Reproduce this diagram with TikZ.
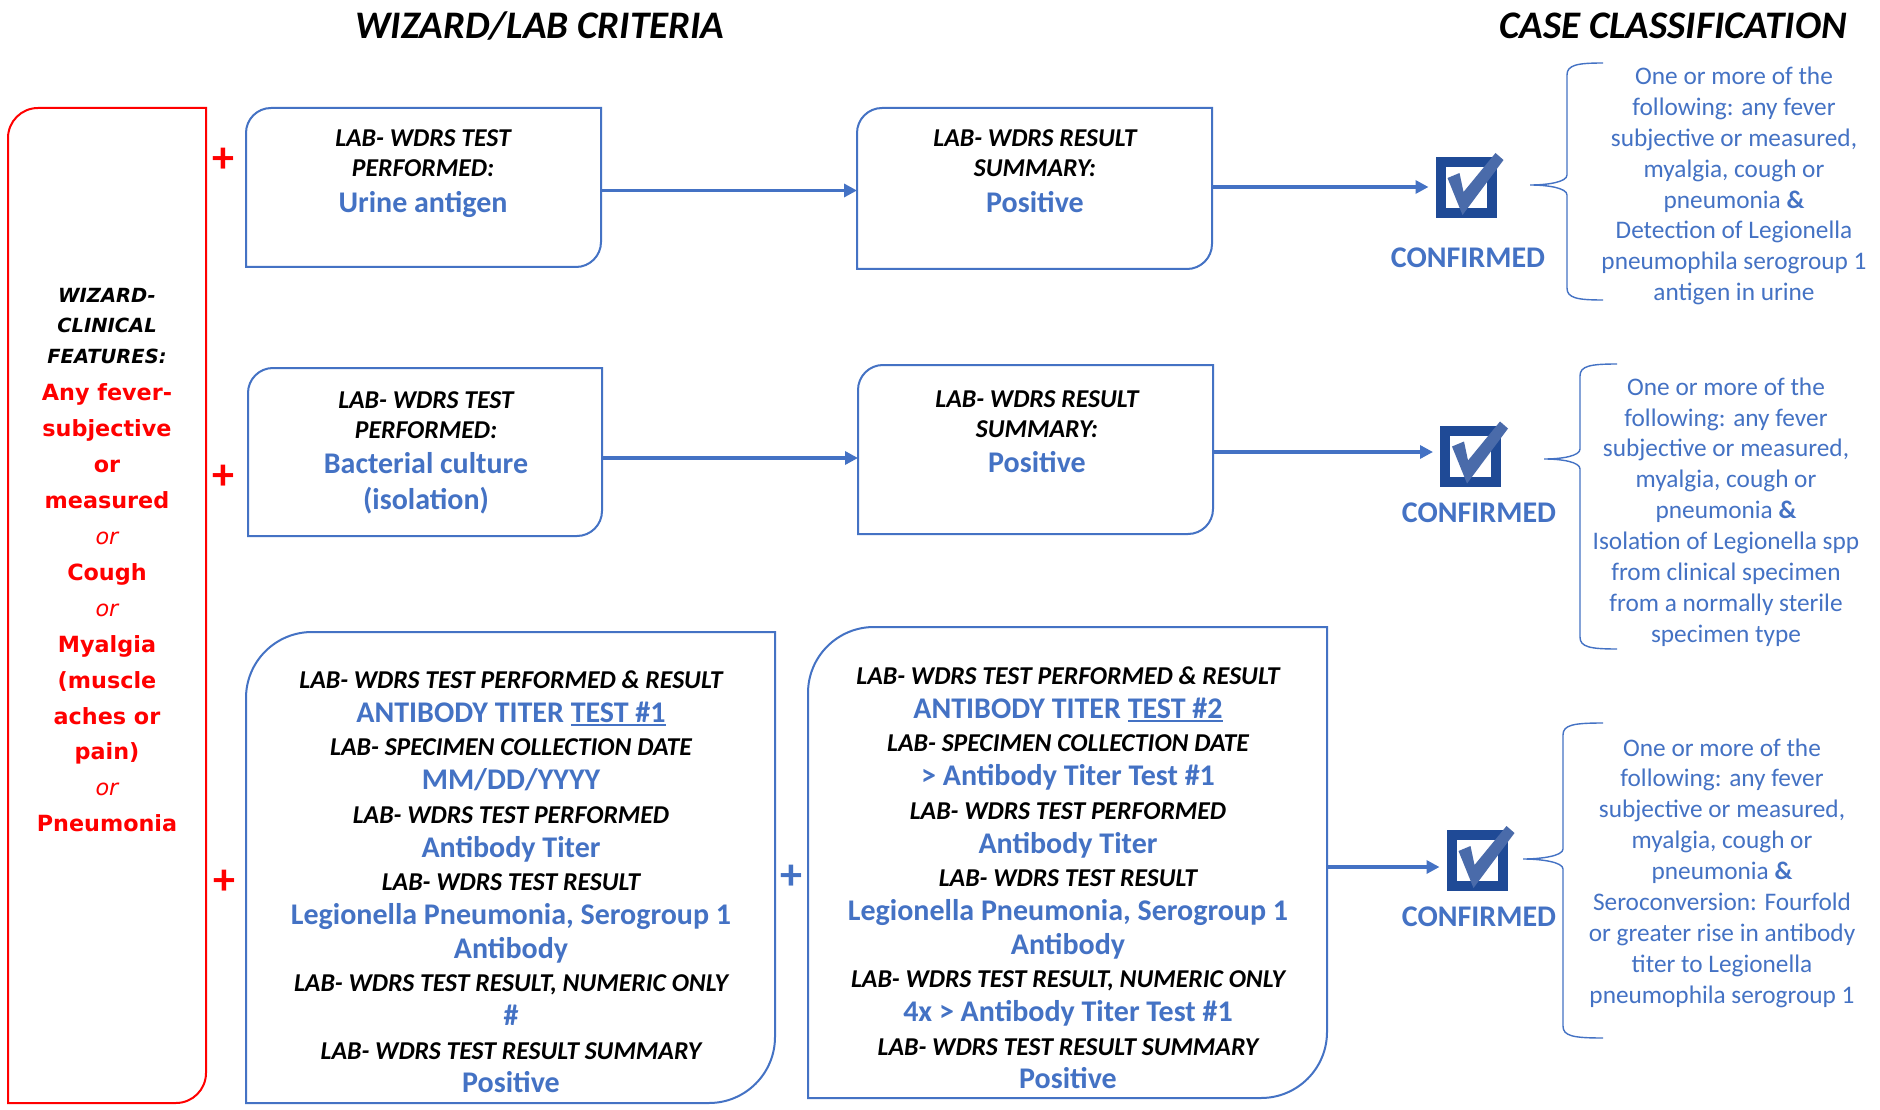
\documentclass[tikz,border=0pt]{standalone}
\usepackage{fontspec}
\setmainfont{Carlito}
\newfontfamily\vfont{DejaVu Sans}
\usetikzlibrary{arrows.meta}

\definecolor{blueText}{HTML}{4472C4}
\definecolor{boxBlue}{HTML}{4472C4}
\definecolor{chkSq}{HTML}{1F4A96}
\definecolor{chkMk}{HTML}{4A6BAA}
\definecolor{alertRed}{HTML}{FF0000}

% text styles used inside the boxes
\newcommand\lab{\fontsize{25.7}{30}\selectfont\bfseries\itshape\color{black}}
\newcommand\val{\fontsize{30}{30}\selectfont\bfseries\color{blueText}}
\newcommand\labs{\fontsize{25.7}{33.7}\selectfont\bfseries\itshape\color{black}}
\newcommand\vals{\fontsize{30}{33.7}\selectfont\bfseries\color{blueText}}
% thick underline
\newcommand\tul[1]{\setbox0=\hbox{#1}\makebox[0pt][l]{\rule[-4pt]{\wd0}{2.2pt}}\box0}

% outline with rounded top-left and bottom-right corners around a node
\newcommand\cornerbox[3]{%
  \draw[line width=2pt,#3]
    (#1.south west) -- ([shift={(0,#2)}]#1.north west)
    arc[start angle=180,end angle=270,radius=#2]
    -- (#1.north east) -- ([shift={(0,-#2)}]#1.south east)
    arc[start angle=0,end angle=90,radius=#2] -- cycle;}

% curly brace: tip (x,y), spine x, end x, top y, bottom y
\newcommand\curly[6]{%
  \draw[line width=1.4pt,boxBlue]
    (#4,#5) .. controls (#3+10,#5) and (#3,#5+2) .. (#3,#5+12)
    -- (#3,#2-10) .. controls (#3,#2-3) and (#1+18,#2) .. (#1,#2)
    .. controls (#1+18,#2) and (#3,#2+3) .. (#3,#2+10)
    -- (#3,#6-12) .. controls (#3,#6-2) and (#3+10,#6) .. (#4,#6);}

% check box: square plus tick mark
\newcommand\checkbox[1]{%
  \draw[line width=10pt,chkSq] ([shift={(5,5)}]#1.north west) rectangle ([shift={(-5,-5)}]#1.south east);
  \begin{scope}[shift={(#1.north west)}]
    \fill[chkMk] (12,21) -- (24,16) -- (28,35) -- (60,-4) -- (68,3) -- (27,58) -- cycle;
  \end{scope}}

\tikzset{
  frame/.style={inner sep=0pt,outer sep=0pt},
  boxtxt/.style={align=center,inner sep=0pt},
  smallbox/.style={boxtxt,font=\fontsize{25.7}{30}\selectfont},
  bigbox/.style={boxtxt,font=\fontsize{25.7}{33.7}\selectfont},
  casetxt/.style={align=center,inner sep=0pt,text=blueText,font=\fontsize{25.3}{30.9}\selectfont},
  conf/.style={font=\fontsize{30}{30}\selectfont\bfseries,text=blueText,inner sep=0pt},
  title/.style={font=\fontsize{39}{40}\selectfont\bfseries\itshape,inner sep=0pt},
  plus/.style={font=\fontsize{44}{44}\selectfont\bfseries,inner sep=0pt},
  arr/.style={draw=boxBlue,line width=3.5pt,-{Triangle[length=13pt,width=13pt]}},
  chk/.style={minimum size=61pt,inner sep=0pt,outer sep=0pt}
}

\begin{document}
\begin{tikzpicture}[x=1pt,y=-1pt]
\useasboundingbox[fill=white] (0,0) rectangle (1880,1110);

% headings
\node[title] (h1) at (540,26) {WIZARD/LAB CRITERIA};
\node[title] (h2) at (1673,26) {CASE CLASSIFICATION};

% clinical features column
\node[frame,minimum width=198pt,minimum height=995pt,anchor=north west] (clin) at (8,108) {};
\cornerbox{clin}{30}{alertRed}
\node[boxtxt,font=\vfont\fontsize{19.5}{30.5}\selectfont\bfseries\itshape] (clinhead) at (107,326)
  {WIZARD-\\CLINICAL\\FEATURES:};
\node[boxtxt,text=alertRed,font=\vfont\fontsize{22.3}{35.9}\selectfont\bfseries] (clinlist) at (107,608)
  {Any fever-\\subjective\\or\\measured\\{\mdseries\itshape or}\\Cough\\{\mdseries\itshape or}\\Myalgia\\(muscle\\aches or\\pain)\\{\mdseries\itshape or}\\Pneumonia};

\node[plus,text=alertRed] (p1) at (223,160) {+};
\node[plus,text=alertRed] (p2) at (223,477) {+};
\node[plus,text=alertRed] (p3) at (224,882) {+};
\node[plus,text=blueText] (p4) at (791,877) {+};

% row 1: urine antigen
\node[frame,minimum width=355pt,minimum height=159pt,anchor=north west] (b1) at (246,108) {};
\cornerbox{b1}{25}{boxBlue}
\node[smallbox] (b1t) at (423,174) {{\lab LAB- WDRS TEST}\\{\lab PERFORMED:}\\[6pt]{\val Urine antigen}};

\node[frame,minimum width=355pt,minimum height=161pt,anchor=north west] (b2) at (857,108) {};
\cornerbox{b2}{25}{boxBlue}
\node[smallbox] (b2t) at (1035,171.6) {{\lab LAB- WDRS RESULT}\\{\lab SUMMARY:}\\[6pt]{\val Positive}};

% row 2: bacterial culture
\node[frame,minimum width=354pt,minimum height=168pt,anchor=north west] (b3) at (248,368) {};
\cornerbox{b3}{25}{boxBlue}
\node[smallbox] (b3t) at (426,453) {{\lab LAB- WDRS TEST}\\{\lab PERFORMED:}\\[5pt]{\val Bacterial culture}\\[6pt]{\val (isolation)}};

\node[frame,minimum width=355pt,minimum height=169pt,anchor=north west] (b4) at (858,365) {};
\cornerbox{b4}{25}{boxBlue}
\node[smallbox] (b4t) at (1037,431.5) {{\lab LAB- WDRS RESULT}\\{\lab SUMMARY:}\\[5pt]{\val Positive}};

% row 3: paired antibody titers
\node[frame,minimum width=529pt,minimum height=471pt,anchor=north west] (b5) at (246,632) {};
\cornerbox{b5}{66}{boxBlue}
\node[bigbox] (b5t) at (511,882) {%
{\labs LAB- WDRS TEST PERFORMED \& RESULT}\\
{\vals ANTIBODY TITER \tul{TEST \#1}}\\
{\labs LAB- SPECIMEN COLLECTION DATE}\\
{\vals MM/DD/YYYY}\\
{\labs LAB- WDRS TEST PERFORMED}\\
{\vals Antibody Titer}\\
{\labs LAB- WDRS TEST RESULT}\\
{\vals Legionella Pneumonia, Serogroup 1}\\
{\vals Antibody}\\
{\labs LAB- WDRS TEST RESULT, NUMERIC ONLY}\\
{\vals \#}\\
{\labs LAB- WDRS TEST RESULT SUMMARY}\\
{\vals Positive}};

\node[frame,minimum width=519pt,minimum height=471pt,anchor=north west] (b6) at (808,627) {};
\cornerbox{b6}{66}{boxBlue}
\node[bigbox] (b6t) at (1068,878) {%
{\labs LAB- WDRS TEST PERFORMED \& RESULT}\\
{\vals ANTIBODY TITER \tul{TEST \#2}}\\
{\labs LAB- SPECIMEN COLLECTION DATE}\\
{\vals > Antibody Titer Test \#1}\\
{\labs LAB- WDRS TEST PERFORMED}\\
{\vals Antibody Titer}\\
{\labs LAB- WDRS TEST RESULT}\\
{\vals Legionella Pneumonia, Serogroup 1}\\
{\vals Antibody}\\
{\labs LAB- WDRS TEST RESULT, NUMERIC ONLY}\\
{\vals 4x > Antibody Titer Test \#1}\\
{\labs LAB- WDRS TEST RESULT SUMMARY}\\
{\vals Positive}};

% confirmation marks
\node[chk] (c1) at (1466,187.5) {};
\checkbox{c1}
\node[conf] (conf1) at (1468,258) {CONFIRMED};
\node[chk] (c2) at (1470.5,456) {};
\checkbox{c2}
\node[conf] (conf2) at (1479,513) {CONFIRMED};
\node[chk] (c3) at (1477,860.5) {};
\checkbox{c3}
\node[conf] (conf3) at (1479,917) {CONFIRMED};

% connectors
\draw[arr] ([yshift=-3pt]b1.east) -- ([yshift=-3pt]b1.east -| b2.west);
\draw[arr,shorten >=7pt] ([yshift=1.5pt]b2.east) -- ([yshift=1.5pt]b2.east -| c1.west);
\draw[arr] ([yshift=-6pt]b3.east) -- ([yshift=-6pt]b3.east -| b4.west);
\draw[arr,shorten >=7pt] ([yshift=-2.5pt]b4.east) -- ([yshift=-2.5pt]b4.east -| c2.west);
\draw[arr,shorten >=7pt] ([yshift=-4.5pt]b6.east) -- ([yshift=-4.5pt]b6.east -| c3.west);

% case definitions
\curly{1530}{185}{1567}{1603}{63}{300}
\node[casetxt] (d1) at (1734,186) {One or more of the\\following: any fever\\subjective or measured,\\myalgia, cough or\\pneumonia \textbf{\&}\\Detection of Legionella\\pneumophila serogroup 1\\antigen in urine};

\curly{1544}{459}{1580}{1617}{364}{649}
\node[casetxt] (d2) at (1726,512) {One or more of the\\following: any fever\\subjective or measured,\\myalgia, cough or\\pneumonia \textbf{\&}\\Isolation of Legionella spp\\from clinical specimen\\from a normally sterile\\specimen type};

\curly{1523}{859}{1563}{1603}{723}{1038}
\node[casetxt] (d3) at (1722,873) {One or more of the\\following: any fever\\subjective or measured,\\myalgia, cough or\\pneumonia \textbf{\&}\\Seroconversion: Fourfold\\or greater rise in antibody\\titer to Legionella\\pneumophila serogroup 1};

\end{tikzpicture}
\end{document}
